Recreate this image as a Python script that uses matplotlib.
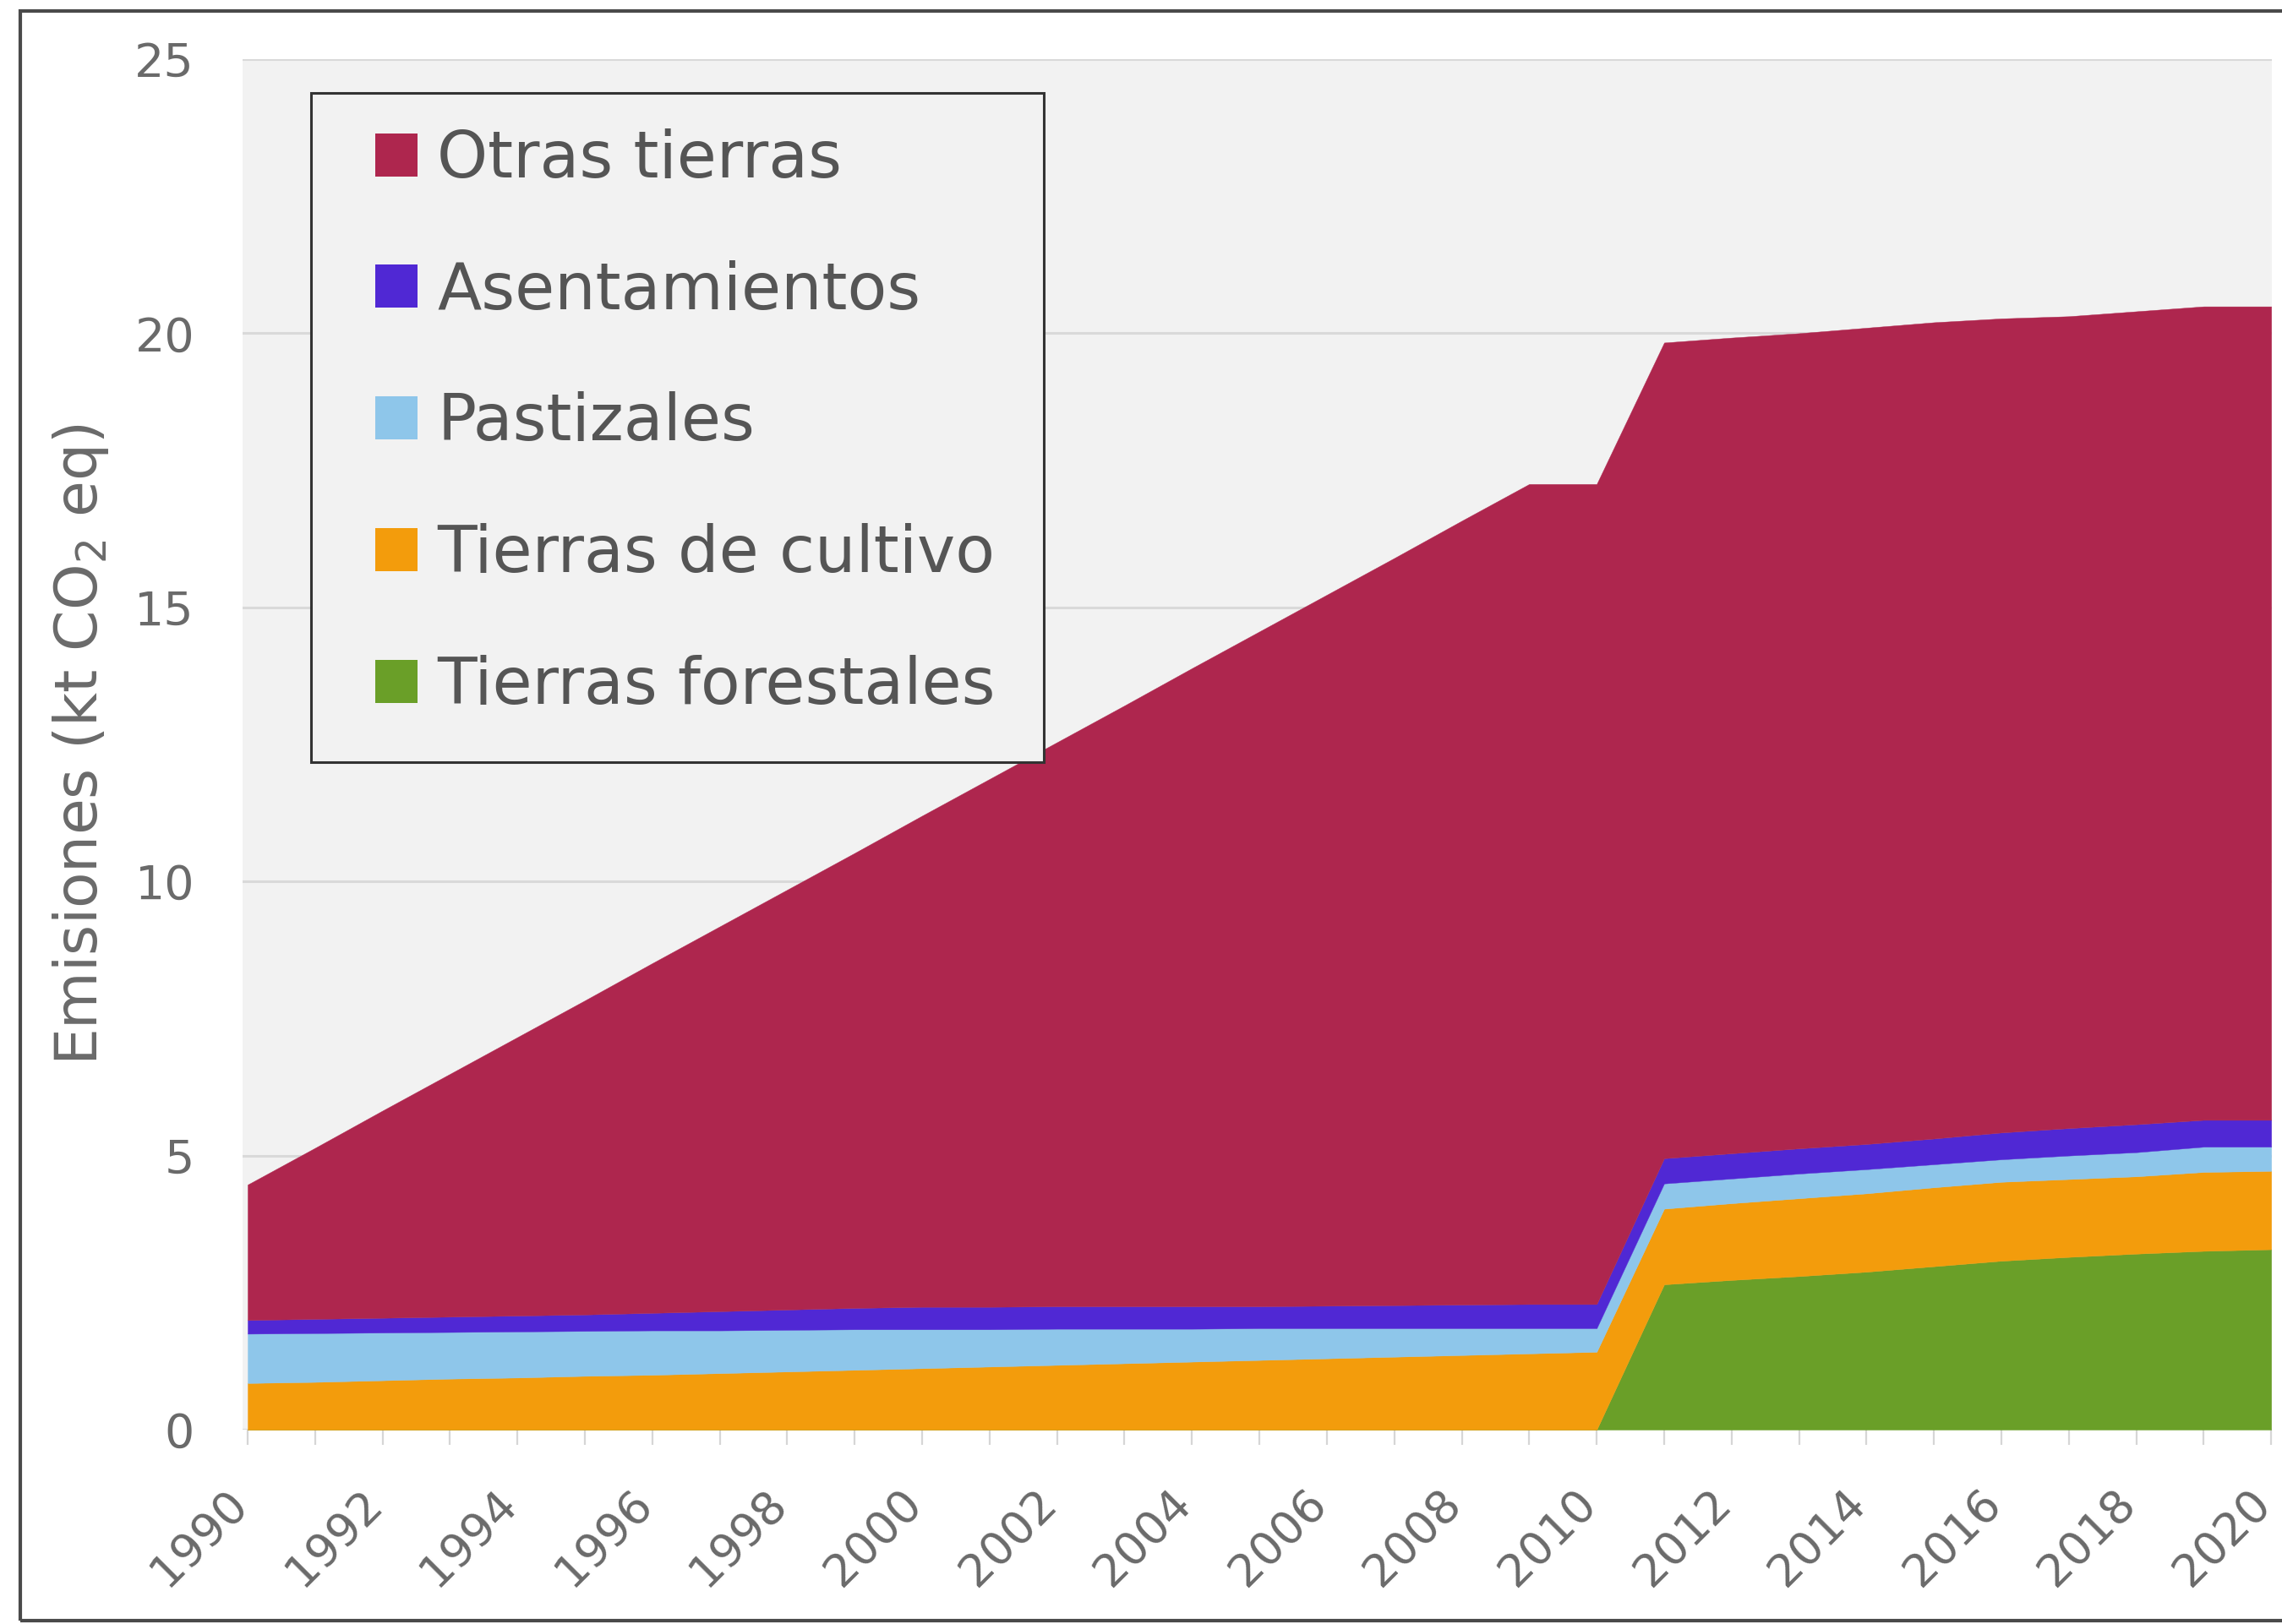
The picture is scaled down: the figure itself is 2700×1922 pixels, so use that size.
import matplotlib
matplotlib.use('Agg')
import matplotlib.pyplot as plt
import matplotlib.transforms as mtransforms
from matplotlib.patches import Patch, Rectangle


# Data (kt CO2 eq), one value per year 1990-2020
years = list(range(1990, 2021))

forestales = [0.0] * 21 + [2.65, 2.73, 2.80, 2.88, 2.98, 3.08, 3.15, 3.21, 3.26, 3.29]

cultivo = [0.85, 0.87, 0.90, 0.93, 0.95, 0.98, 1.00, 1.03, 1.06, 1.09,
           1.12, 1.15, 1.18, 1.21, 1.24, 1.27, 1.30, 1.33, 1.36, 1.39,
           1.42, 1.38, 1.40, 1.42, 1.43, 1.44, 1.44, 1.42, 1.41, 1.44, 1.43]

pastizales = [0.90, 0.89, 0.87, 0.85, 0.84, 0.82, 0.81, 0.78, 0.76, 0.74,
              0.71, 0.68, 0.66, 0.63, 0.60, 0.58, 0.55, 0.52, 0.49, 0.46,
              0.43, 0.46, 0.45, 0.45, 0.44, 0.42, 0.41, 0.43, 0.44, 0.46, 0.44]

asentamientos = [0.25, 0.26, 0.27, 0.28, 0.29, 0.30, 0.32, 0.35, 0.37, 0.39,
                 0.41, 0.41, 0.41, 0.41, 0.41, 0.40, 0.41, 0.42, 0.43, 0.44,
                 0.44, 0.46, 0.46, 0.46, 0.46, 0.47, 0.49, 0.50, 0.51, 0.49, 0.49]

otras = [2.47, 3.12, 3.78, 4.43, 5.08, 5.73, 6.38, 7.02, 7.66, 8.30,
         8.96, 9.63, 10.29, 10.96, 11.64, 12.31, 12.97, 13.63, 14.30, 14.96,
         14.96, 14.88, 14.88, 14.87, 14.89, 14.89, 14.85, 14.81, 14.83, 14.84, 14.84]

labels = ['Tierras forestales', 'Tierras de cultivo', 'Pastizales',
          'Asentamientos', 'Otras tierras']
colors = ['#6a9f28', '#f39c0c', '#8ec6ea', '#5028d4', '#ae264e']

xtick_years = list(range(1990, 2021, 2))
ytick_vals = [0, 5, 10, 15, 20, 25]


plt.rcParams['font.family'] = ['DejaVu Sans']
plt.rcParams['mathtext.default'] = 'regular'

W, H = 2700, 1922
fig = plt.figure(figsize=(W / 100, H / 100), dpi=100)

# outer frame (right side runs off the picture)
fig.patches.append(Rectangle((24 / W, 1 - 1918 / H), 1.2, (1918 - 13) / H,
                             transform=fig.transFigure, fill=False,
                             edgecolor='#4a4a4a', lw=3))

ax = fig.add_axes([287 / W, 1 - 1692 / H, (2688 - 287) / W, (1692 - 70) / H])
ax.set_facecolor('#f2f2f2')

ax.stackplot(years, forestales, cultivo, pastizales, asentamientos, otras,
             colors=colors, edgecolor='face', linewidth=0.3)

ax.set_xlim(1989.925, 2020.01)
ax.set_ylim(0, 25)
ax.set_yticks(ytick_vals)
ax.set_xticks(xtick_years)
ax.set_xticks(years, minor=True)
ax.set_xticklabels([str(y) for y in xtick_years], rotation=45, ha='right',
                   va='center', rotation_mode='anchor')

ax.grid(axis='y', color='#d9d9d9', lw=2.2)
ax.set_axisbelow(True)
for s in ax.spines.values():
    s.set_visible(False)

ax.tick_params(axis='y', length=0, pad=41, labelsize=40, labelcolor='#6a6a6a')
ax.tick_params(axis='x', which='both', length=13, width=1.6, color='#d6d6d6',
               labelsize=39, labelcolor='#6a6a6a', pad=44)

# nudge the rotated year labels a little to the left
shift = mtransforms.ScaledTranslation(-9 / 100, 0, fig.dpi_scale_trans)
for lbl in ax.get_xticklabels():
    lbl.set_transform(lbl.get_transform() + shift)

ax.set_ylabel('Emisiones (kt CO$_2$ eq)', fontsize=50, color='#6a6a6a')
ax.yaxis.set_label_coords((131 - 287) / (2688 - 287), 0.5)

# legend: box drawn by hand so the padding can match
ax.add_patch(Rectangle((368 / W, 1 - 902 / H), (1235 - 368) / W, (902 - 110) / H,
                       transform=fig.transFigure, facecolor='#f2f2f2',
                       edgecolor='#333333', lw=2.2, zorder=4.5, clip_on=False))
handles = [Patch(facecolor=c, edgecolor='none') for c in colors]
leg = ax.legend(handles[::-1], labels[::-1], loc='upper left',
                bbox_to_anchor=(444 / W, 1 - 152 / H),
                bbox_transform=fig.transFigure, borderaxespad=0, borderpad=0,
                fontsize=55, frameon=False,
                handlelength=0.65, handleheight=0.65, handletextpad=0.31,
                labelspacing=1.07)
leg.set_zorder(5)
for t in leg.get_texts():
    t.set_color('#555555')

fig.savefig('out.png', dpi=100)
